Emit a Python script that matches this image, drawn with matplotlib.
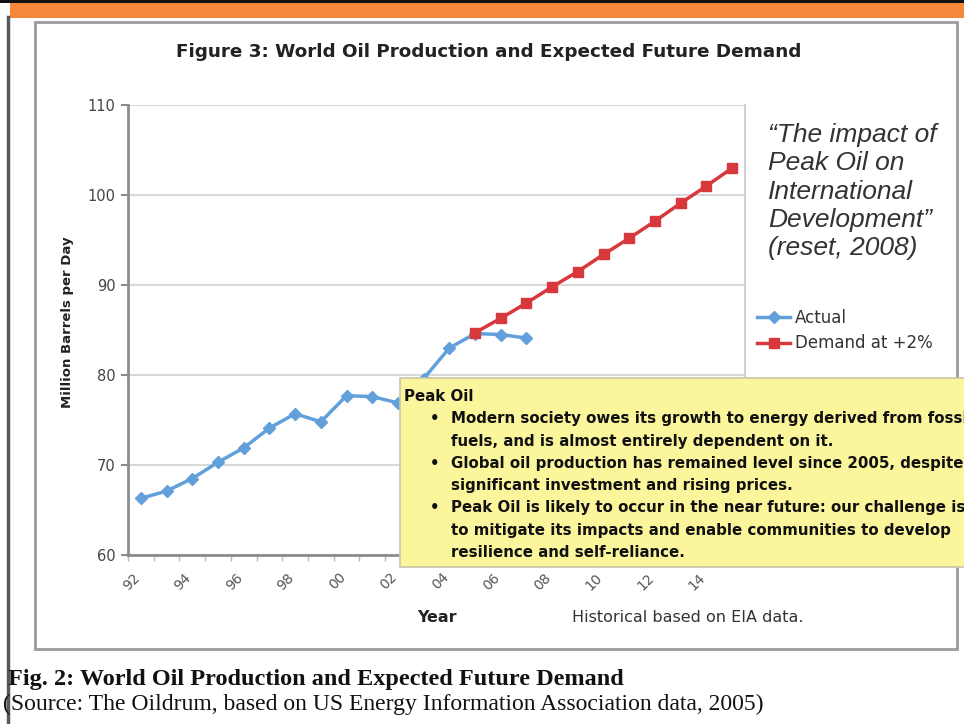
import matplotlib.pyplot as plt
from matplotlib.patches import Rectangle
from matplotlib.lines import Line2D
from matplotlib.transforms import ScaledTranslation

# Світове видобування нафти (млн барелів на день), 1992-2007
actual_years = list(range(1992, 2008))
actual = [66.3, 67.1, 68.5, 70.3, 71.9, 74.1, 75.7, 74.8,
          77.7, 77.6, 76.9, 79.6, 83.0, 84.6, 84.5, 84.1]

# Попит із ростом +2% на рік, 2005-2015
demand_years = list(range(2005, 2016))
demand = [84.7, 86.3, 88.0, 89.8, 91.5, 93.4, 95.2, 97.1, 99.1, 101.0, 103.0]

# Категорії осі x та підписи
all_years = list(range(1992, 2016))
year_labels = ['92', '94', '96', '98', '00', '02', '04', '06', '08', '10', '12', '14']
y_ticks = [60, 70, 80, 90, 100, 110]

quote_lines = ['\u201cThe impact of', 'Peak Oil on', 'International',
               'Development\u201d', '(reset, 2008)']

peak_oil_lines = [
    ('\u2022', 'Modern society owes its growth to energy derived from fossil'),
    ('', 'fuels, and is almost entirely dependent on it.'),
    ('\u2022', 'Global oil production has remained level since 2005, despite'),
    ('', 'significant investment and rising prices.'),
    ('\u2022', 'Peak Oil is likely to occur in the near future: our challenge is'),
    ('', 'to mitigate its impacts and enable communities to develop'),
    ('', 'resilience and self-reliance.'),
]

W, H = 964, 724


def fx(x):
    return x / W


def fy(y):
    return 1 - y / H


blue = '#62a0dc'
red = '#d8383c'

fig = plt.figure(figsize=(9.64, 7.24), dpi=100)
fig.patch.set_facecolor('white')

# Верхня смуга сторінки та ліва межа
fig.add_artist(Rectangle((0, fy(3)), 1, 3 / H, transform=fig.transFigure,
                         fc='#111111', ec='none', zorder=1))
fig.add_artist(Rectangle((fx(10), fy(18)), 1, 15 / H, transform=fig.transFigure,
                         fc='#f5873a', ec='none', zorder=1))
fig.add_artist(Line2D([fx(8), fx(8)], [fy(17), 0], transform=fig.transFigure,
                      color='#5a5a5a', lw=2.5, zorder=1))

# Рамка діаграми
fig.add_artist(Rectangle((fx(35), fy(649)), 922 / W, 627 / H, transform=fig.transFigure,
                         fc='none', ec='#9a9a9a', lw=2, zorder=1))

ax = fig.add_axes([fx(128), fy(555), 617 / W, 450 / H])

actual_x = [all_years.index(y) for y in actual_years]
demand_x = [all_years.index(y) for y in demand_years]

ax.plot(actual_x, actual, color=blue, lw=2.5, marker='D', ms=6, label='Actual', zorder=3)
ax.plot(demand_x, demand, color=red, lw=2.5, marker='s', ms=7,
        label='Demand at +2%', zorder=4)

ax.set_xlim(-0.5, len(all_years) - 0.5)
ax.set_ylim(60, 110)
ax.set_yticks(y_ticks)
ax.tick_params(axis='y', length=5, width=1.5, color='#8c8c8c', labelsize=10.5,
               labelcolor='#444444', pad=4)
ax.yaxis.grid(True, color='#d9d9d9', lw=1.5)
ax.set_axisbelow(True)

# Поділки між категоріями, підписи років кожні два роки
ax.set_xticks([i - 0.5 for i in range(len(all_years) + 1)])
ax.set_xticklabels([])
ax.tick_params(axis='x', which='major', length=4, width=1, color='#bbbbbb')
ax.set_xticks(list(range(0, len(all_years), 2)), year_labels, minor=True)
ax.tick_params(axis='x', which='minor', length=0, labelsize=10,
               labelcolor='#555555', pad=11)
shift = ScaledTranslation(-8 / 100, 0, fig.dpi_scale_trans)
for lbl in ax.get_xticklabels(minor=True):
    lbl.set_rotation(45)
    lbl.set_ha('right')
    lbl.set_va('top')
    lbl.set_rotation_mode('anchor')
    lbl.set_transform(lbl.get_transform() + shift)

for side in ['left', 'bottom']:
    ax.spines[side].set_color('#8c8c8c')
    ax.spines[side].set_linewidth(2)
ax.spines['right'].set_color('#d0d0d0')
ax.spines['right'].set_linewidth(1.5)
ax.spines['top'].set_visible(False)

fig.text(fx(489), fy(52), 'Figure 3: World Oil Production and Expected Future Demand',
         ha='center', va='center', fontsize=13.2, weight='bold', color='#222222')
fig.text(fx(68), fy(322), 'Million Barrels per Day', rotation=90, ha='center',
         va='center', fontsize=9.5, weight='bold', color='#222222')
fig.text(fx(437), fy(618), 'Year', ha='center', va='center', fontsize=11.5,
         weight='bold', color='#222222')
fig.text(fx(572), fy(618), 'Historical based on EIA data.', ha='left', va='center',
         fontsize=11.5, color='#333333')

leg = ax.legend(loc='upper left', bbox_to_anchor=(fx(757), fy(309)),
                bbox_transform=fig.transFigure, frameon=False, fontsize=12,
                handlelength=2.0, handletextpad=0.3, labelspacing=0.45,
                borderaxespad=0, borderpad=0)
for t in leg.get_texts():
    t.set_color('#333333')

for i, line in enumerate(quote_lines):
    fig.text(fx(768), fy(135 + i * 28.3), line, ha='left', va='center',
             fontsize=19, style='italic', family='Liberation Sans', color='#333333')

# Жовта вставка про пік нафти (текст обрізається правим краєм сторінки)
fig.add_artist(Rectangle((fx(400), fy(567)), 600 / W, 189 / H, transform=fig.transFigure,
                         fc='#fbf59c', ec='#c9c6a8', lw=1.2, zorder=5))
fig.text(fx(404), fy(396), 'Peak Oil', ha='left', va='center', fontsize=10.8,
         weight='bold', color='#111111', zorder=6)
for i, (bullet, line) in enumerate(peak_oil_lines):
    y = fy(419 + i * 22.2)
    if bullet:
        fig.text(fx(430), y, bullet, ha='left', va='center', fontsize=10.8,
                 weight='bold', color='#111111', zorder=6)
    fig.text(fx(451), y, line, ha='left', va='center', fontsize=10.8,
             weight='bold', color='#111111', zorder=6)

# Підпис під рисунком
fig.text(fx(8), fy(680), 'Fig. 2: World Oil Production and Expected Future Demand',
         ha='left', va='center', fontsize=17.5, weight='bold', family='Liberation Serif',
         color='#111111')
fig.text(fx(3), fy(704),
         '(Source: The Oildrum, based on US Energy Information Association data, 2005)',
         ha='left', va='center', fontsize=17, family='Liberation Serif', color='#111111')

fig.savefig('out.png', dpi=100)
